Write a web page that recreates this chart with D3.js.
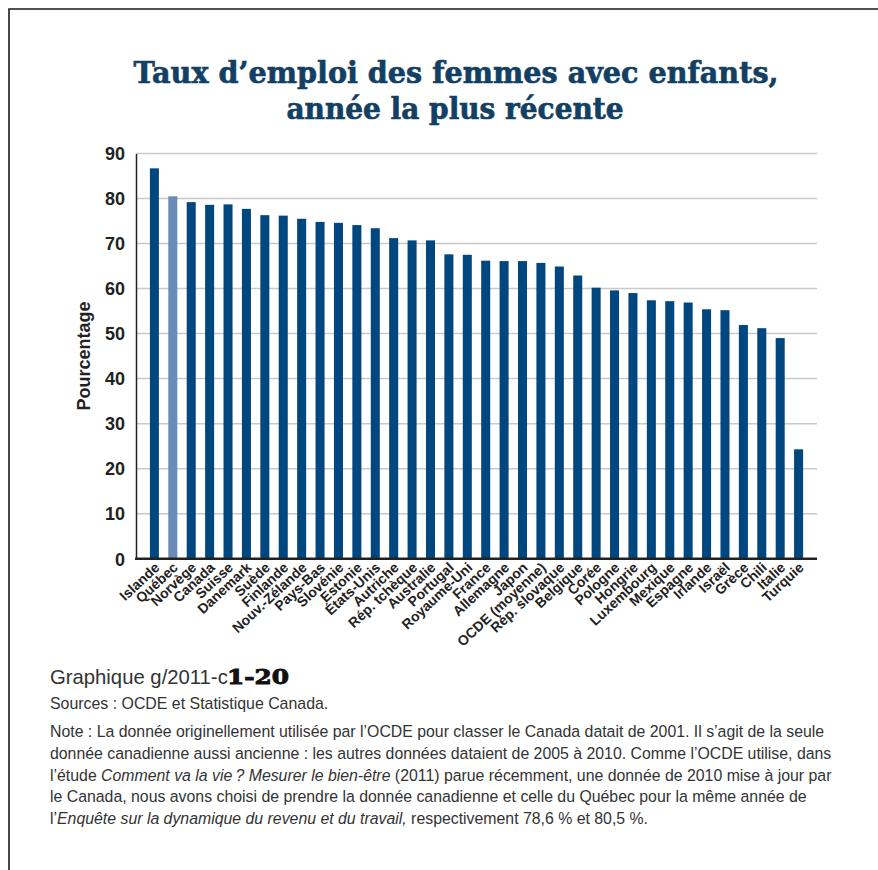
<!DOCTYPE html>
<html lang="fr">
<head>
<meta charset="utf-8">
<script src="https://cdn.jsdelivr.net/npm/d3@7/dist/d3.min.js"></script>
<style>
  html, body { margin: 0; padding: 0; background: #fff; }
  svg { display: block; }
</style>
</head>
<body>
<script>
// Taux d'emploi des femmes avec enfants (%), année la plus récente
const pays = ["Islande","Québec","Norvège","Canada","Suisse","Danemark","Suède","Finlande",
  "Nouv.-Zélande","Pays-Bas","Slovénie","Estonie","États-Unis","Autriche","Rép. tchèque",
  "Australie","Portugal","Royaume-Uni","France","Allemagne","Japon","OCDE (moyenne)",
  "Rép. slovaque","Belgique","Corée","Pologne","Hongrie","Luxembourg","Mexique","Espagne",
  "Irlande","Israël","Grèce","Chili","Italie","Turquie"];
const taux = [86.7,80.5,79.2,78.6,78.7,77.7,76.3,76.2,75.5,74.8,74.6,74.1,73.4,71.2,70.7,
  70.7,67.6,67.5,66.2,66.1,66.1,65.7,64.9,62.9,60.2,59.6,59.0,57.4,57.2,56.9,55.4,55.2,
  51.9,51.2,49.0,24.3];
const ticksY = [0,10,20,30,40,50,60,70,80,90];
const paysMisEnValeur = ["Québec"];

const W = 878, H = 870;
const svg = d3.select("body").append("svg").attr("width", W).attr("height", H);

// cadre (haut et gauche)
svg.append("path")
  .attr("d", `M9,${H} L9,9 L${W},9`)
  .attr("fill", "none").attr("stroke", "#1a1a1a").attr("stroke-width", 1.6);

// titre
const titre = svg.append("g").attr("font-family", "'DejaVu Serif', serif")
  .attr("font-weight", "bold").attr("fill", "#123f63").attr("stroke", "#123f63")
  .attr("stroke-width", 0.7).attr("text-anchor", "middle");
titre.append("text").attr("x", 456).attr("y", 83).attr("font-size", 30)
  .attr("textLength", 645).attr("lengthAdjust", "spacingAndGlyphs")
  .text("Taux d’emploi des femmes avec enfants,");
titre.append("text").attr("x", 455).attr("y", 119).attr("font-size", 30)
  .attr("textLength", 337).attr("lengthAdjust", "spacingAndGlyphs")
  .text("année la plus récente");

// zone du graphique
const x0 = 136, x1 = 817, yTop = 153.5, yBot = 558.7;
const x = d3.scaleBand().domain(pays).range([x0, x1]).paddingInner(0.51).paddingOuter(0.755);
const y = d3.scaleLinear().domain([0, 90]).range([yBot, yTop]);

// quadrillage
svg.append("g").selectAll("line").data(ticksY.filter(d => d > 0)).join("line")
  .attr("x1", x0).attr("x2", x1)
  .attr("y1", d => y(d)).attr("y2", d => y(d))
  .attr("stroke", "#c9c9c9").attr("stroke-width", 1.5);

// barres
svg.append("g").selectAll("rect").data(pays).join("rect")
  .attr("x", d => x(d)).attr("width", x.bandwidth())
  .attr("y", (d, i) => y(taux[i])).attr("height", (d, i) => y(0) - y(taux[i]))
  .attr("fill", d => paysMisEnValeur.includes(d) ? "#6b8bb8" : "#00467f");

// axe vertical
const axeY = svg.append("g").attr("transform", `translate(${x0},0)`)
  .call(d3.axisLeft(y).tickValues(ticksY).tickSize(0).tickPadding(11));
axeY.select(".domain").attr("stroke", "#222").attr("stroke-width", 1.5);
axeY.selectAll("text").attr("font-family", "'Liberation Sans', Arial, sans-serif")
  .attr("font-size", 18).attr("font-weight", "bold").attr("fill", "#222").attr("dy", "0.35em");

// axe horizontal
const axeX = svg.append("g").attr("transform", `translate(0,${yBot})`)
  .call(d3.axisBottom(x).tickSize(0).tickPadding(0));
axeX.select(".domain").attr("d", `M${x0 - 1},0H${x1}`).attr("stroke", "#222").attr("stroke-width", 2.5);
axeX.selectAll("text")
  .attr("font-family", "'Liberation Sans', Arial, sans-serif")
  .attr("font-size", 14).attr("font-weight", "bold").attr("fill", "#222")
  .attr("text-anchor", "end").attr("dy", null).attr("y", 0)
  .attr("transform", "translate(6,10) rotate(-43)");

// titre de l'axe Y
svg.append("text")
  .attr("transform", "translate(90,356) rotate(-90)")
  .attr("text-anchor", "middle")
  .attr("font-family", "'Liberation Sans', Arial, sans-serif")
  .attr("font-size", 18).attr("font-weight", "bold").attr("fill", "#222")
  .text("Pourcentage");

// notes en bas
const pied = svg.append("g").attr("font-family", "'Liberation Sans', Arial, sans-serif").attr("fill", "#333");
const g1 = pied.append("text").attr("x", 50).attr("y", 684).attr("font-size", 20.3);
g1.append("tspan").text("Graphique g/2011-c");
pied.append("text").attr("x", 227).attr("y", 684)
  .attr("font-family", "'DejaVu Serif', serif").attr("font-weight", "bold")
  .attr("font-size", 20).attr("fill", "#111").attr("stroke", "#111").attr("stroke-width", 0.9)
  .attr("textLength", 62).attr("lengthAdjust", "spacingAndGlyphs")
  .text("1-20");
pied.append("text").attr("x", 50).attr("y", 709).attr("font-size", 15.9)
  .text("Sources : OCDE et Statistique Canada.");

const lignesNote = [
  [["Note : La donnée originellement utilisée par l’OCDE pour classer le Canada datait de 2001. Il s’agit de la seule", false]],
  [["donnée canadienne aussi ancienne : les autres données dataient de 2005 à 2010. Comme l’OCDE utilise, dans", false]],
  [["l’étude ", false], ["Comment va la vie\u202F? Mesurer le bien-être", true], [" (2011) parue récemment, une donnée de 2010 mise à jour par", false]],
  [["le Canada, nous avons choisi de prendre la donnée canadienne et celle du Québec pour la même année de", false]],
  [["l’", false], ["Enquête sur la dynamique du revenu et du travail,", true], [" respectivement 78,6 % et 80,5 %.", false]]
];
lignesNote.forEach((ligne, i) => {
  const t = pied.append("text").attr("x", 50).attr("y", 737 + i * 21.8).attr("font-size", 15.85);
  ligne.forEach(([s, it]) => t.append("tspan").attr("font-style", it ? "italic" : "normal").text(s));
});
</script>
</body>
</html>
